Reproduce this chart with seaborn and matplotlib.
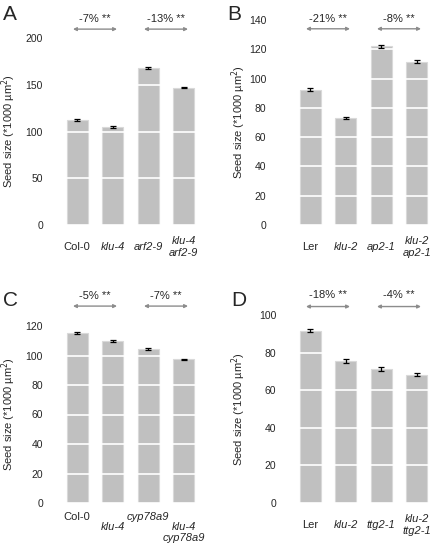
import numpy as np
import pandas as pd
import matplotlib
matplotlib.use("Agg")
import matplotlib.pyplot as plt
import seaborn as sns

sns.set_style("white")
plt.rcParams['font.family'] = ['Liberation Sans', 'DejaVu Sans']

# panel A
a_names = ["Col-0", "klu-4", "arf2-9", "klu-4\narf2-9"]
a_vals = [112, 105, 168, 147]
a_err = [1.3, 1.0, 1.5, 1.0]
# panel B
b_names = ["Ler", "klu-2", "ap2-1", "klu-2\nap2-1"]
b_vals = [92.5, 73, 122, 111.5]
b_err = [0.8, 0.9, 1.2, 1.2]
# panel C
c_names = ["Col-0", "klu-4", "cyp78a9", "klu-4\ncyp78a9"]
c_vals = [115, 109.7, 104.3, 97.3]
c_err = [0.7, 0.7, 0.9, 0.6]
# panel D
d_names = ["Ler", "klu-2", "ttg2-1", "klu-2\nttg2-1"]
d_vals = [91.5, 75.5, 71.2, 68.2]
d_err = [0.8, 0.9, 0.9, 0.7]

a_diff = ["-7% **", "-13% **"]
b_diff = ["-21% **", "-8% **"]
c_diff = ["-5% **", "-7% **"]
d_diff = ["-18% **", "-4% **"]

W, H = 431, 548
fig = plt.figure(figsize=(W / 100, H / 100), dpi=100)


def px_axes(x0, x1, ybot, ytop):
    return fig.add_axes([x0 / W, 1 - ybot / H, (x1 - x0) / W, (ybot - ytop) / H])


# letter, names, values, errors, diffs, axes box (px), ymax, step,
# arrow y, text y, tick pad (px), ylabel x (px), letter pos (px)
panels = [
    ("A", a_names, a_vals, a_err, a_diff, (59.5, 201.5, 225, 38), 200, 50,
     209.5, 220, 16.5, 8.5, (3, 15)),
    ("B", b_names, b_vals, b_err, b_diff, (292.5, 434.5, 225, 20), 140, 20,
     134, 141, 26, 238.5, (227, 15)),
    ("C", c_names, c_vals, c_err, c_diff, (59.5, 201.5, 503, 326), 120, 20,
     133.5, 140.5, 16.5, 8.5, (3, 300)),
    ("D", d_names, d_vals, d_err, d_diff, (292.5, 434.5, 503, 315), 100, 20,
     104.5, 110.5, 16, 238.5, (231, 300)),
]

for letter, names, vals, err, diff, box, ymax, step, arr_y, txt_y, pad, ylx, lpos in panels:
    ax = px_axes(*box)
    df = pd.DataFrame({"genotype": names, "size": vals})
    sns.barplot(data=df, x="genotype", y="size", color="#c0c0c0", saturation=1,
                width=0.6, edgecolor="#d9d9d9", linewidth=0.8, ax=ax, zorder=1)
    ax.errorbar(range(4), vals, yerr=err, fmt="none", ecolor="black",
                elinewidth=0.9, capsize=2.5, capthick=0.9, zorder=4)
    ax.set_xlim(-0.5, 3.5)
    ax.set_ylim(0, ymax)
    ax.set_yticks(np.arange(0, ymax + 1, step))
    ax.grid(axis="y", color="white", linewidth=1.2, zorder=3)
    ax.grid(axis="x", visible=False)
    ax.set_axisbelow(False)
    for s in ax.spines.values():
        s.set_visible(False)
    ax.tick_params(axis="y", length=0, labelsize=7.5, pad=pad * 0.72)
    ax.set_xlabel("")
    ax.set_ylabel("Seed size (*1000 µm$^2$)", fontsize=8, va="center")
    ax.yaxis.set_label_coords((ylx - box[0]) / (box[1] - box[0]), 0.5)
    ax.set_xticks([])

    # genotype labels
    for i, nm in enumerate(names):
        style = "normal" if nm in ("Col-0", "Ler") else "italic"
        if letter == "C":
            if i % 2 == 0:
                yoff, va = -14, "center"
            else:
                yoff, va = -19, "top"
        else:
            yoff, va = -22, "center"
        ax.annotate(nm, xy=(i, 0), xycoords="data", xytext=(0, yoff),
                    textcoords="offset pixels", ha="center", va=va,
                    fontsize=8, fontstyle=style, linespacing=1.15,
                    annotation_clip=False)

    # comparison arrows
    for k, t in enumerate(diff):
        x0 = 2 * k - 0.12
        x1 = 2 * k + 1 + 0.12
        ax.annotate("", xy=(x0, arr_y), xytext=(x1, arr_y),
                    arrowprops=dict(arrowstyle="<|-|>", color="#8c8c8c", lw=1.0,
                                    mutation_scale=5, shrinkA=0, shrinkB=0),
                    annotation_clip=False)
        ax.text((x0 + x1) / 2, txt_y, t, ha="center", va="center",
                fontsize=8, clip_on=False)

    fig.text(lpos[0] / W, 1 - lpos[1] / H, letter, fontsize=15,
             ha="left", va="center")

plt.savefig("out.png", dpi=100)
